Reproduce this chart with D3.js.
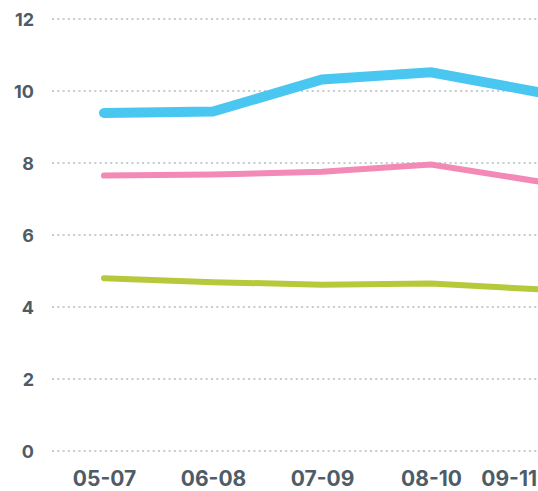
<!DOCTYPE html>
<html><head><meta charset="utf-8">
<script src="https://cdn.jsdelivr.net/npm/d3@7"></script>
<style>
html,body{margin:0;padding:0;background:#fff;overflow:hidden;}
svg{display:block;}
</style></head>
<body>
<svg id="chart" width="538" height="491"></svg>
<script>
const categories = ["05-07", "06-08", "07-09", "08-10", "09-11"];
const seriesBlue  = [9.39, 9.43, 10.32, 10.52, 9.96];
const seriesPink  = [7.65, 7.68, 7.76, 7.96, 7.48];
const seriesGreen = [4.80, 4.69, 4.62, 4.65, 4.49];
const yTicks = [0, 2, 4, 6, 8, 10, 12];

const svg = d3.select("#chart");
const W = 538, H = 491;
const x = d3.scalePoint().domain(categories).range([104, 540]);
const y = d3.scaleLinear().domain([0, 12]).range([451, 19]);

const font = "Inter, 'Open Sans', sans-serif";
const textColor = "#4e5c66";

// y axis labels
const yAxis = d3.axisLeft(y).tickValues(yTicks).tickSize(0).tickPadding(0).tickFormat(d3.format("d"));
const gy = svg.append("g").attr("transform", "translate(34,0)").call(yAxis);
gy.select(".domain").remove();
gy.selectAll("text").attr("x", 0).attr("dy", "0.36em")
  .attr("font-family", font).attr("font-weight", 700).attr("font-size", 18)
  .attr("fill", textColor).attr("text-anchor", "end");

// dotted grid
svg.append("g").selectAll("line").data(yTicks).join("line")
  .attr("x1", 52).attr("x2", W + 2)
  .attr("y1", d => y(d)).attr("y2", d => y(d))
  .attr("stroke", "#c3ccd4").attr("stroke-width", 2.2)
  .attr("stroke-dasharray", "2,3.3");

// x axis labels
const xAxis = d3.axisBottom(x).tickSize(0).tickPadding(0);
const gx = svg.append("g").attr("transform", "translate(0,471)").call(xAxis);
gx.select(".domain").remove();
gx.selectAll("text").attr("y", 0).attr("dy", "0.71em")
  .attr("font-family", font).attr("font-weight", 700).attr("font-size", 21)
  .attr("fill", textColor);
// justify labels that would overflow the right edge
gx.selectAll("text").each(function() {
  const b = this.getBBox();
  const tr = this.parentNode.transform.baseVal.consolidate();
  const tx = tr ? tr.matrix.e : 0;
  const right = tx + b.x + b.width;
  if (right > W - 1) d3.select(this).attr("x", (W - 1) - right);
});

const line = d3.line().x((d, i) => x(categories[i])).y(d => y(d));
const series = [
  {values: seriesGreen, color: "#b5c93a", width: 6},
  {values: seriesPink, color: "#f389b6", width: 6},
  {values: seriesBlue, color: "#4ac7f1", width: 10}
];
svg.append("g").selectAll("path").data(series).join("path")
  .attr("d", d => line(d.values))
  .attr("fill", "none")
  .attr("stroke", d => d.color)
  .attr("stroke-width", d => d.width)
  .attr("stroke-linecap", "round")
  .attr("stroke-linejoin", "miter");
</script>
</body></html>
